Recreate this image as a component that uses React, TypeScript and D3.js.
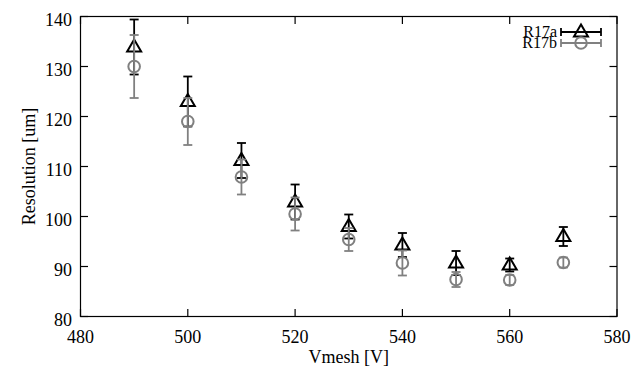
import React, { useEffect, useRef } from 'react';
import * as d3 from 'd3';

const voltages = [490, 500, 510, 520, 530, 540, 550, 560, 570];
const r17aValues = [133.9, 123.0, 111.2, 102.9, 98.0, 94.3, 90.7, 90.3, 96.0];
const r17aErrors = [5.5, 5.0, 3.5, 3.5, 2.4, 2.4, 2.4, 1.3, 1.9];
const r17bValues = [130.0, 119.0, 107.9, 100.5, 95.4, 90.7, 87.4, 87.3, 90.8];
const r17bErrors = [6.3, 4.7, 3.5, 3.3, 2.3, 2.5, 1.5, 1.0, 1.0];
const xTicks = [480, 500, 520, 540, 560, 580];
const yTicks = [80, 90, 100, 110, 120, 130, 140];

const App = () => {
  const ref = useRef<SVGSVGElement>(null);

  useEffect(() => {
    document.body.style.margin = '0';
    const width = 640;
    const height = 384;
    const left = 80.5;
    const right = 617;
    const top = 16.5;
    const bottom = 316.5;
    const font = '"Liberation Serif", "DejaVu Serif", serif';

    const svg = d3.select(ref.current);
    svg.selectAll('*').remove();
    svg.attr('width', width).attr('height', height);

    const x = d3.scaleLinear().domain([480, 580]).range([left, right]);
    const y = d3.scaleLinear().domain([80, 140]).range([bottom, top]);

    // frame
    svg
      .append('rect')
      .attr('x', left)
      .attr('y', top)
      .attr('width', right - left)
      .attr('height', bottom - top)
      .attr('fill', 'none')
      .attr('stroke', 'black')
      .attr('stroke-width', 1.2);

    const tickLen = 7.5;
    const ticks = svg.append('g').attr('stroke', 'black').attr('stroke-width', 1.2);
    xTicks.forEach((t) => {
      ticks.append('line').attr('x1', x(t)).attr('x2', x(t)).attr('y1', bottom).attr('y2', bottom - tickLen);
      ticks.append('line').attr('x1', x(t)).attr('x2', x(t)).attr('y1', top).attr('y2', top + tickLen);
    });
    yTicks.forEach((t) => {
      ticks.append('line').attr('x1', left).attr('x2', left + tickLen).attr('y1', y(t)).attr('y2', y(t));
      ticks.append('line').attr('x1', right).attr('x2', right - tickLen).attr('y1', y(t)).attr('y2', y(t));
    });

    svg
      .append('g')
      .selectAll('text')
      .data(xTicks)
      .enter()
      .append('text')
      .attr('x', (d) => x(d))
      .attr('y', 343)
      .attr('text-anchor', 'middle')
      .style('font-family', font)
      .style('font-size', '18px')
      .text((d) => d);

    svg
      .append('g')
      .selectAll('text')
      .data(yTicks)
      .enter()
      .append('text')
      .attr('x', 72)
      .attr('y', (d) => y(d) + 9.5)
      .attr('text-anchor', 'end')
      .style('font-family', font)
      .style('font-size', '18px')
      .text((d) => d);

    svg
      .append('text')
      .attr('x', (left + right) / 2)
      .attr('y', 363)
      .attr('text-anchor', 'middle')
      .style('font-family', font)
      .style('font-size', '18px')
      .text('Vmesh [V]');

    svg
      .append('text')
      .attr('transform', `translate(35,${(top + bottom) / 2}) rotate(-90)`)
      .attr('text-anchor', 'middle')
      .style('font-family', font)
      .style('font-size', '18px')
      .text('Resolution [um]');

    const capW = 4.5;
    const triangle = 'M0,-7.5L7,4.5L-7,4.5Z';

    const series = [
      { name: 'R17a', values: r17aValues, errors: r17aErrors, color: 'black', marker: 'tri' },
      { name: 'R17b', values: r17bValues, errors: r17bErrors, color: '#808080', marker: 'circle' },
    ];

    const drawMarker = (g: any, cx: number, cy: number, s: any) => {
      if (s.marker === 'tri') {
        g.append('path')
          .attr('d', triangle)
          .attr('transform', `translate(${cx},${cy})`)
          .attr('fill', 'none')
          .attr('stroke', s.color)
          .attr('stroke-width', 2);
      } else {
        g.append('circle')
          .attr('cx', cx)
          .attr('cy', cy)
          .attr('r', 5.8)
          .attr('fill', 'none')
          .attr('stroke', s.color)
          .attr('stroke-width', 2);
      }
    };

    series.forEach((s, si) => {
      const g = svg.append('g').attr('stroke', s.color).attr('stroke-width', 1.8);
      voltages.forEach((v, i) => {
        const cx = x(v);
        const y0 = y(s.values[i] - s.errors[i]);
        const y1 = y(s.values[i] + s.errors[i]);
        g.append('line').attr('x1', cx).attr('x2', cx).attr('y1', y0).attr('y2', y1);
        g.append('line').attr('x1', cx - capW).attr('x2', cx + capW).attr('y1', y0).attr('y2', y0);
        g.append('line').attr('x1', cx - capW).attr('x2', cx + capW).attr('y1', y1).attr('y2', y1);
        drawMarker(g, cx, y(s.values[i]), s);
      });

      // legend
      const ly = 32 + si * 11;
      const lg = svg.append('g').attr('stroke', s.color).attr('stroke-width', 1.8);
      lg.append('line').attr('x1', 561).attr('x2', 601).attr('y1', ly).attr('y2', ly);
      lg.append('line').attr('x1', 561).attr('x2', 561).attr('y1', ly - 4).attr('y2', ly + 4);
      lg.append('line').attr('x1', 601).attr('x2', 601).attr('y1', ly - 4).attr('y2', ly + 4);
      drawMarker(lg, 581, ly, s);
      svg
        .append('text')
        .attr('x', 557)
        .attr('y', ly + 5)
        .attr('text-anchor', 'end')
        .style('font-family', font)
        .style('font-size', '16px')
        .text(s.name);
    });
  }, []);

  return <svg ref={ref} style={{ display: 'block' }} />;
};

export default App;
